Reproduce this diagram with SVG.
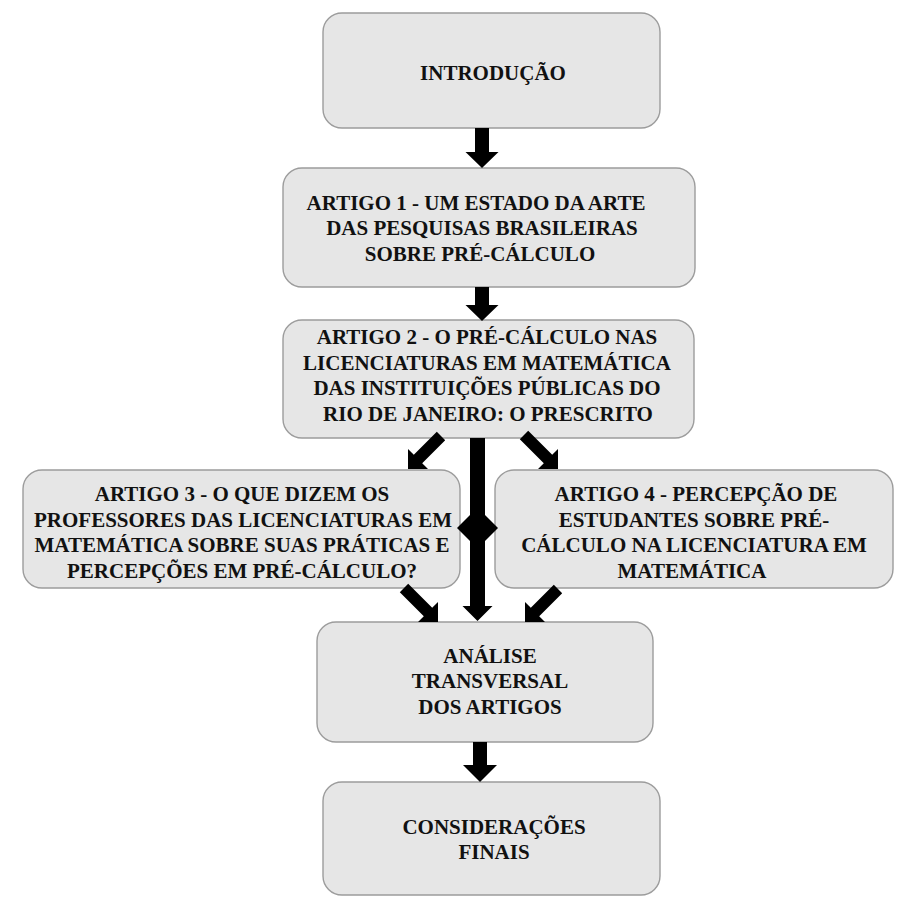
<svg xmlns="http://www.w3.org/2000/svg" width="923" height="897" viewBox="0 0 923 897">
<style>
.box{fill:#e6e6e6;stroke:#9c9c9c;stroke-width:1.4}
.t{font-family:"Liberation Serif","Times New Roman",serif;font-weight:bold;font-size:21px;fill:#111;text-anchor:middle}
.arr{fill:#000}
</style>
<rect width="923" height="897" fill="#fff"/>
<g id="intro">
<rect class="box" x="323" y="13" width="337" height="115" rx="19"/>
<text class="t" x="493" y="80">INTRODUÇÃO</text>
</g>
<g id="artigo1">
<rect class="box" x="283" y="168" width="412" height="119" rx="19"/>
<text class="t" x="476" y="209.5">ARTIGO 1 - UM ESTADO DA ARTE</text>
<text class="t" x="482" y="235">DAS PESQUISAS BRASILEIRAS</text>
<text class="t" x="480" y="260.5">SOBRE PRÉ-CÁLCULO</text>
</g>
<g id="artigo2">
<rect class="box" x="283" y="320" width="411" height="118" rx="19"/>
<text class="t" x="487" y="344">ARTIGO 2 - O PRÉ-CÁLCULO NAS</text>
<text class="t" x="487" y="369.5">LICENCIATURAS EM MATEMÁTICA</text>
<text class="t" x="487" y="395">DAS INSTITUIÇÕES PÚBLICAS DO</text>
<text class="t" x="488" y="420.5">RIO DE JANEIRO: O PRESCRITO</text>
</g>
<g id="artigo3">
<rect class="box" x="23" y="470" width="437" height="118" rx="19"/>
<text class="t" x="242" y="501">ARTIGO 3 - O QUE DIZEM OS</text>
<text class="t" x="243" y="526.5">PROFESSORES DAS LICENCIATURAS EM</text>
<text class="t" x="242" y="552">MATEMÁTICA SOBRE SUAS PRÁTICAS E</text>
<text class="t" x="242" y="577.5">PERCEPÇÕES EM PRÉ-CÁLCULO?</text>
</g>
<g id="artigo4">
<rect class="box" x="495" y="470" width="398" height="118" rx="19"/>
<text class="t" x="696" y="501">ARTIGO 4 - PERCEPÇÃO DE</text>
<text class="t" x="694" y="526.5">ESTUDANTES SOBRE PRÉ-</text>
<text class="t" x="694" y="552">CÁLCULO NA LICENCIATURA EM</text>
<text class="t" x="692" y="577.5">MATEMÁTICA</text>
</g>
<g id="analise">
<rect class="box" x="317" y="622" width="336" height="120" rx="19"/>
<text class="t" x="490" y="662.5">ANÁLISE</text>
<text class="t" x="490" y="688">TRANSVERSAL</text>
<text class="t" x="490" y="713.5">DOS ARTIGOS</text>
</g>
<g id="consideracoes">
<rect class="box" x="323" y="782" width="337" height="113" rx="19"/>
<text class="t" x="494" y="833.5">CONSIDERAÇÕES</text>
<text class="t" x="494" y="859">FINAIS</text>
</g>
<g id="connectors">
<polygon class="arr" points="475,128 489,128 489,152 498.5,152 482,168 465.5,152 475,152"/>
<polygon class="arr" points="475,287 489,287 489,305 498.5,305 482,321 465.5,305 475,305"/>
<polygon class="arr" points="473,742 487,742 487,765 497,765 480,782 463,765 473,765"/>
<polygon class="arr" points="470,438 485,438 485,606 492.5,606 477.5,621 462.5,606 470,606"/>
<polygon class="arr" points="477.5,507.5 498,528 477.5,548.5 457,528"/>
<polygon class="arr" points="528.2,430.8 552.2,454.8 558,449 558,469 538,469 543.8,463.2 519.8,439.2"/>
<polygon class="arr" points="436.8,431.8 413.8,454.8 408,449 408,469 428,469 422.2,463.2 445.2,440.2"/>
<polygon class="arr" points="408.2,583.8 432.2,607.8 438,602 438,622 418,622 423.8,616.2 399.8,592.2"/>
<polygon class="arr" points="553.8,584.8 530.8,607.8 525,602 525,622 545,622 539.2,616.2 562.2,593.2"/>
</g>
</svg>
